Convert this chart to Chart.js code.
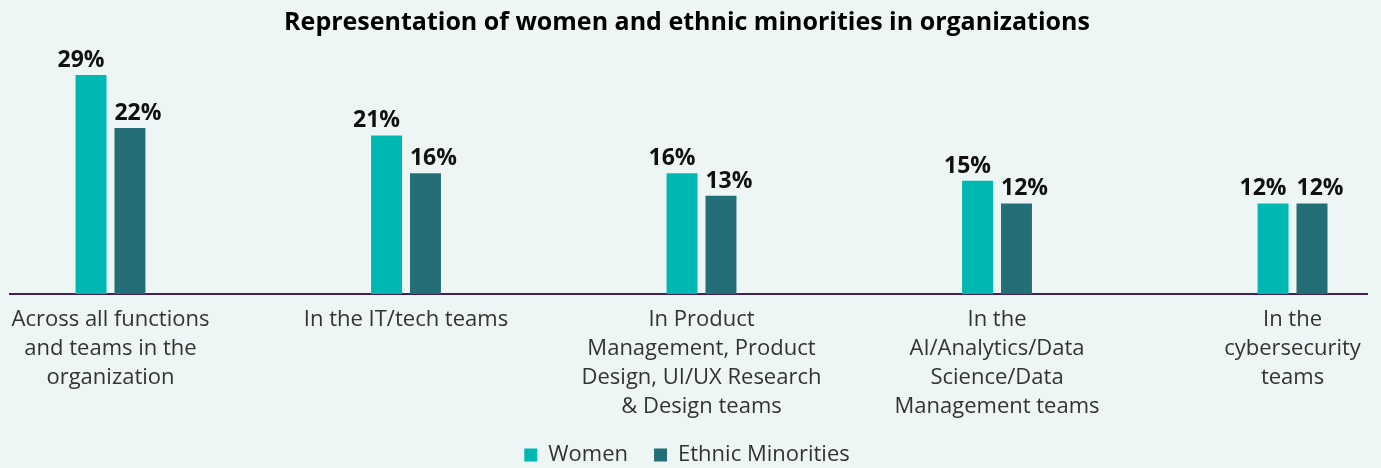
<!DOCTYPE html>
<html>
<head>
<meta charset="utf-8">
<script src="https://cdn.jsdelivr.net/npm/chart.js@4"></script>
<style>
  html, body { margin: 0; padding: 0; background: #edf6f4; }
  #wrap { width: 1381px; height: 468px; position: relative; }
</style>
</head>
<body>
<div id="wrap"><canvas id="chart"></canvas></div>
<script>
// categories (multi-line labels as shown under the axis)
const categories = [
    ['Across all functions', 'and teams in the', 'organization'],
    ['In the IT/tech teams'],
    ['In Product', 'Management, Product', 'Design, UI/UX Research', '& Design teams'],
    ['In the', 'AI/Analytics/Data', 'Science/Data', 'Management teams'],
    ['In the', 'cybersecurity', 'teams']
];
const womenValues = [29, 21, 16, 15, 12];
const minorityValues = [22, 16, 13, 12, 12];
const seriesNames = ['Women', 'Ethnic Minorities'];

const TEAL = '#00b8b2';
const DARK_TEAL = '#246f77';

// value labels above each bar (pushed slightly outward like the original)
const labelShift = [-10, 8];
const valueLabels = {
    id: 'valueLabels',
    afterDatasetsDraw(chart) {
        const ctx = chart.ctx;
        ctx.save();
        ctx.font = 'bold 23px "Open Sans", sans-serif';
        ctx.fillStyle = '#111';
        ctx.textAlign = 'center';
        ctx.textBaseline = 'alphabetic';
        chart.data.datasets.forEach((ds, i) => {
            chart.getDatasetMeta(i).data.forEach((bar, j) => {
                ctx.fillText(ds.data[j].y + '%', bar.x + labelShift[i], bar.y - 8);
            });
        });
        ctx.restore();
    }
};

const toPoints = arr => arr.map((v, i) => ({ x: i, y: v }));

new Chart(document.getElementById('chart'), {
    type: 'bar',
    data: {
        datasets: [
            {
                label: seriesNames[0],
                data: toPoints(womenValues),
                backgroundColor: TEAL,
                categoryPercentage: 0.2635,
                barPercentage: 0.795
            },
            {
                label: seriesNames[1],
                data: toPoints(minorityValues),
                backgroundColor: DARK_TEAL,
                categoryPercentage: 0.2635,
                barPercentage: 0.795
            }
        ]
    },
    options: {
        responsive: true,
        maintainAspectRatio: false,
        animation: false,
        layout: { padding: { left: 7, right: 14, top: 0, bottom: -8 } },
        plugins: {
            title: {
                display: true,
                text: 'Representation of women and ethnic minorities in organizations',
                color: '#000',
                font: { family: '"Open Sans", sans-serif', size: 25, weight: 'bold', lineHeight: 1.2 },
                padding: { top: 8, bottom: 10 }
            },
            legend: {
                position: 'bottom',
                labels: {
                    color: '#333',
                    boxWidth: 13,
                    boxHeight: 13,
                    padding: 26,
                    font: { family: '"Open Sans", sans-serif', size: 22 }
                }
            },
            tooltip: { enabled: false }
        },
        scales: {
            x: {
                type: 'linear',
                offset: false,
                min: -0.339,
                max: 4.252,
                grid: { display: false, drawTicks: false },
                border: { display: true, color: '#42205e', width: 2 },
                afterBuildTicks: scale => {
                    scale.ticks = categories.map((c, i) => ({ value: i }));
                },
                afterFit: scale => {
                    scale.height = 124;
                },
                ticks: {
                    autoSkip: false,
                    maxRotation: 0,
                    padding: 11,
                    color: '#333',
                    font: { family: '"Open Sans", sans-serif', size: 22, lineHeight: 1.318 },
                    callback: value => categories[value]
                }
            },
            y: {
                display: false,
                min: 0,
                max: 32.59
            }
        }
    },
    plugins: [valueLabels]
});
</script>
</body>
</html>
